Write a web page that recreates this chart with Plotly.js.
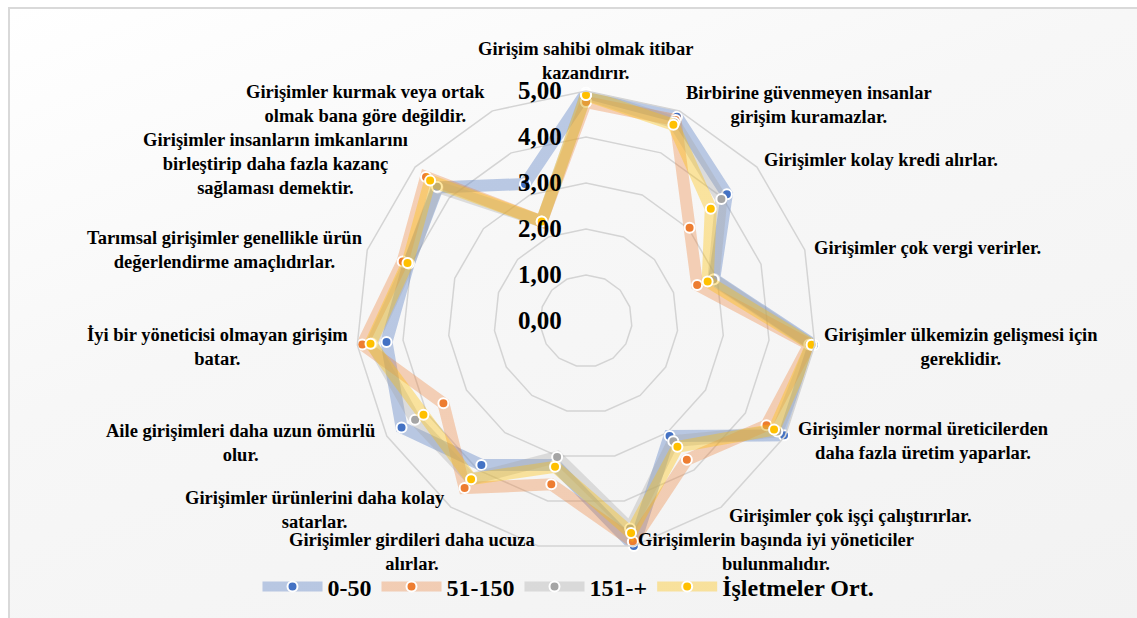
<!DOCTYPE html>
<html>
<head>
<meta charset="utf-8">
<script src="https://cdn.plot.ly/plotly-3.0.1.min.js"></script>
<style>
  html, body { margin: 0; padding: 0; background: #ffffff; }
  #wrap { position: relative; width: 1137px; height: 618px; overflow: hidden; }
  #bg { position: absolute; left: 8px; top: 7px; width: 1140px; height: 620px;
        border: 2px solid #d9d9d9; box-sizing: border-box;
        background: linear-gradient(160deg, #ffffff 0%, #f7f7f7 40%, #f2f2f2 100%); }
  #chart { position: absolute; left: 0; top: 0; width: 1137px; height: 618px; }
</style>
</head>
<body>
<div id="wrap">
  <div id="bg"></div>
  <div id="chart"></div>
</div>
<script>
const categories = [
  "Girişim sahibi olmak itibar<br>kazandırır.",
  "Birbirine güvenmeyen insanlar<br>girişim kuramazlar.",
  "Girişimler kolay kredi alırlar.",
  "Girişimler çok vergi verirler.",
  "Girişimler ülkemizin gelişmesi için<br>gereklidir.",
  "Girişimler normal üreticilerden<br>daha fazla üretim yaparlar.",
  "Girişimler çok işçi çalıştırırlar.",
  "Girişimlerin başında iyi yöneticiler<br>bulunmalıdır.",
  "Girişimler girdileri daha ucuza<br>alırlar.",
  "Girişimler ürünlerini daha kolay<br>satarlar.",
  "Aile girişimleri daha uzun ömürlü<br>olur.",
  "İyi bir yöneticisi olmayan girişim<br>batar.",
  "Tarımsal girişimler genellikle ürün<br>değerlendirme amaçlıdırlar.",
  "Girişimler insanların imkanlarını<br>birleştirip daha fazla kazanç<br>sağlaması demektir.",
  "Girişimler kurmak veya ortak<br>olmak bana göre değildir."
];

const seriesNames = ["0-50", "51-150", "151-+", "İşletmeler Ort."];

const values_0_50     = [4.96, 4.86, 4.12, 2.93, 4.98, 4.97, 3.09, 5.00, 3.20, 3.87, 4.63, 4.36, 4.05, 4.34, 3.26];
const values_51_150   = [4.76, 4.78, 3.03, 2.54, 4.88, 4.53, 3.73, 4.90, 3.63, 4.49, 3.58, 4.89, 4.19, 4.68, 2.37];
const values_151_plus = [4.93, 4.72, 3.96, 2.91, 4.93, 4.80, 3.23, 4.61, 3.02, 4.25, 4.29, 4.68, 4.05, 4.36, 2.37];
const values_avg      = [4.91, 4.67, 3.65, 2.78, 4.93, 4.72, 3.38, 4.71, 3.24, 4.25, 4.08, 4.71, 4.08, 4.56, 2.37];

const radialTicks = [0, 1, 2, 3, 4, 5];

// category label placement (pixels in the 1137x618 picture) and anchor side
const labelX = [585, 684, 762, 812, 822, 796, 727, 636, 537, 447, 377, 350, 365, 410, 487];
const labelY = [61, 105, 160, 248, 347, 441, 516, 552, 552, 510, 443, 347, 250, 164, 104];
const labelAnchor = ["center", "left", "left", "left", "left", "left", "left", "left",
                     "right", "right", "right", "right", "right", "right", "right"];

const markerColors = ["#4472C4", "#ED7D31", "#A5A5A5", "#FFC000"];
const bandColors = ["rgba(114,147,203,0.47)", "rgba(237,125,49,0.33)", "rgba(165,165,165,0.33)", "rgba(255,192,0,0.36)"];

const allValues = [values_0_50, values_51_150, values_151_plus, values_avg];
const close = arr => arr.concat([arr[0]]);

const traces = allValues.map((vals, i) => ({
  type: "scatterpolar",
  mode: "lines+markers",
  name: seriesNames[i],
  r: close(vals),
  theta: close(categories),
  line: { color: bandColors[i], width: 12, shape: "linear" },
  marker: { color: markerColors[i], size: 10, line: { color: "#ffffff", width: 2 } },
  hoverinfo: "r+name"
}));

const serif = "'Liberation Serif', 'Times New Roman', serif";
const W = 1137, H = 618;

const annotations = categories.map((c, i) => ({
  xref: "paper", yref: "paper",
  x: labelX[i] / W, y: 1 - labelY[i] / H,
  xanchor: labelAnchor[i], yanchor: "middle",
  align: "center",
  showarrow: false,
  text: c,
  font: { family: serif, size: 18.5, color: "#000000", weight: "bold" }
}));

const layout = {
  width: W,
  height: H,
  margin: { l: 0, r: 0, t: 0, b: 0 },
  paper_bgcolor: "rgba(0,0,0,0)",
  plot_bgcolor: "rgba(0,0,0,0)",
  separators: ", ",
  font: { family: serif, color: "#000000" },
  showlegend: true,
  legend: {
    orientation: "h",
    x: 0.5, xanchor: "center",
    y: 1 - 587 / H, yanchor: "middle",
    font: { family: serif, size: 24, color: "#000000", weight: "bold" },
    itemwidth: 60,
    bgcolor: "rgba(0,0,0,0)"
  },
  annotations: annotations,
  polar: {
    domain: { x: [0.3131, 0.7177], y: [0.1084, 0.8528] },
    bgcolor: "rgba(0,0,0,0)",
    gridshape: "linear",
    radialaxis: {
      range: [0, 5],
      tickvals: radialTicks,
      tickformat: ".2f",
      angle: 90,
      side: "counterclockwise",
      showline: false,
      ticks: "outside",
      ticklen: 15,
      tickcolor: "rgba(0,0,0,0)",
      showgrid: true,
      gridcolor: "#d4d4d4",
      gridwidth: 1.5,
      tickfont: { family: serif, size: 25, color: "#000000", weight: "bold" },
      tickangle: 90
    },
    angularaxis: {
      type: "category",
      rotation: 90,
      direction: "clockwise",
      showgrid: false,
      showline: true,
      linecolor: "#d4d4d4",
      linewidth: 1.5,
      ticks: "",
      showticklabels: false
    }
  }
};

Plotly.newPlot("chart", traces, layout, { displayModeBar: false, staticPlot: true });
</script>
</body>
</html>
